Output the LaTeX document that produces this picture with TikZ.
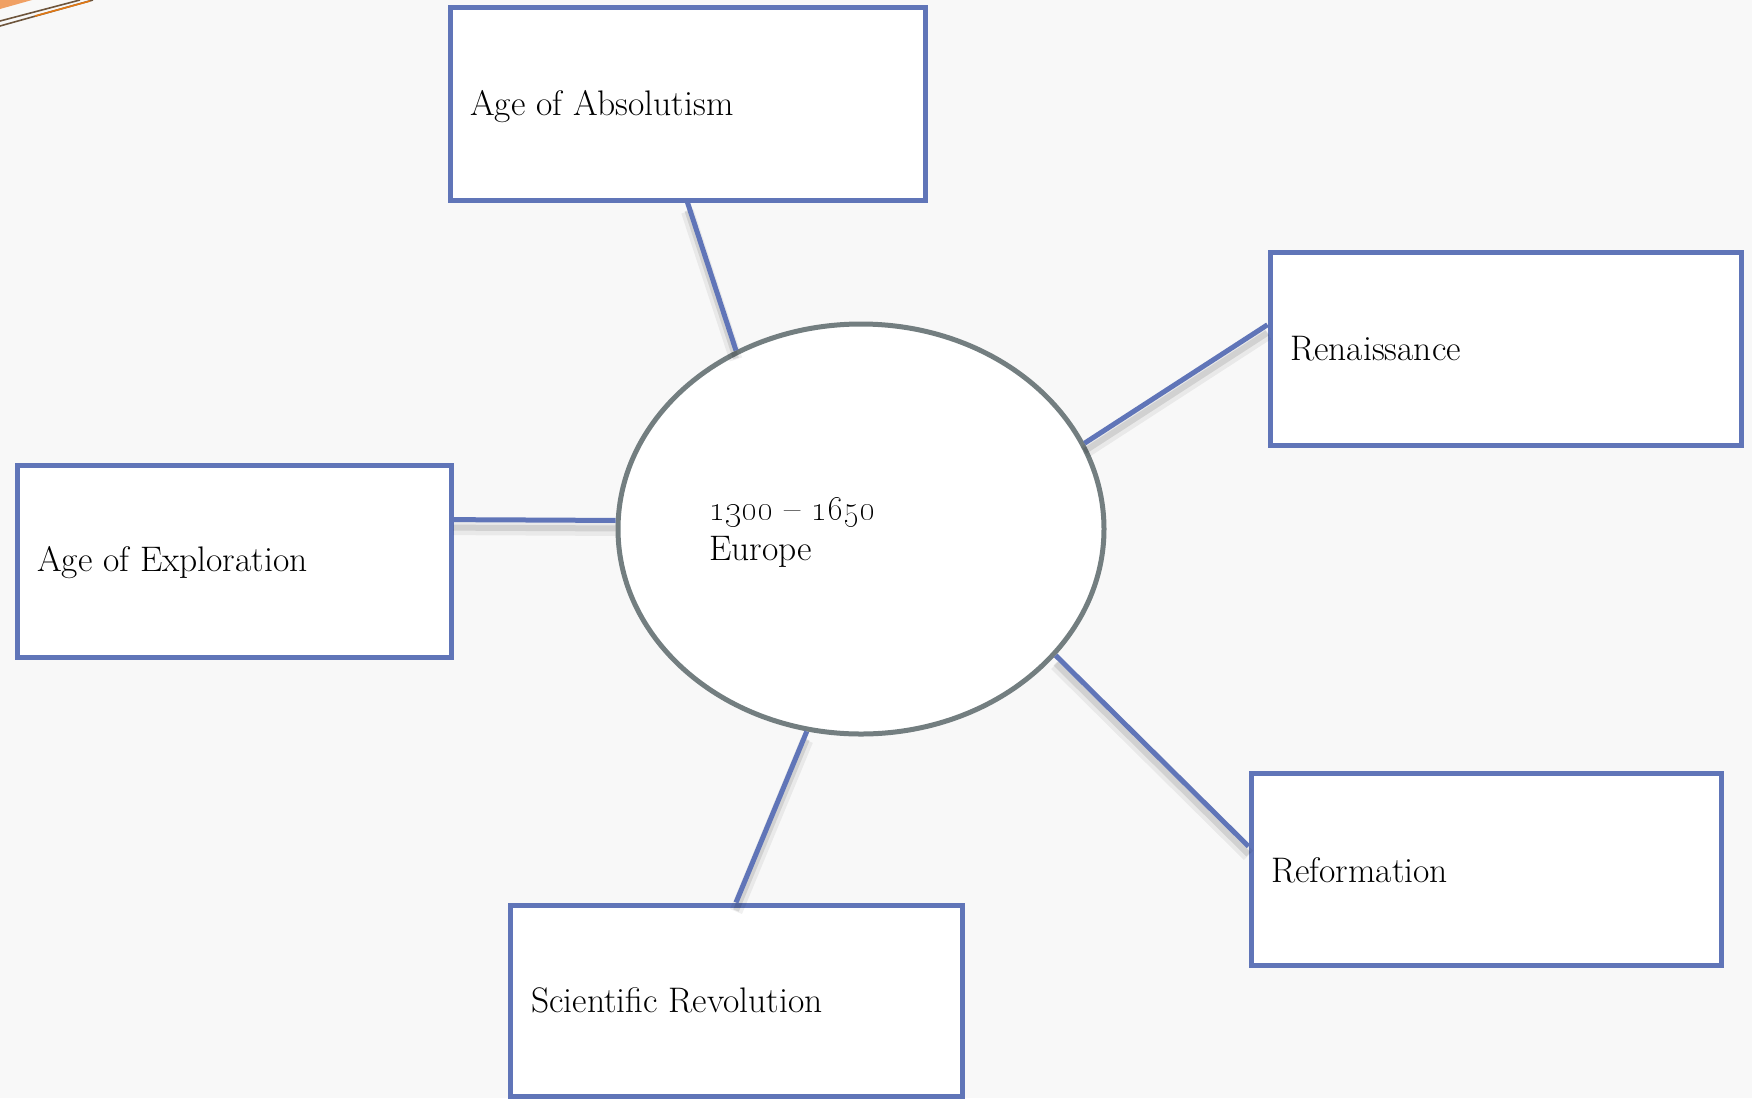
\documentclass[tikz,border=0pt]{standalone}
\usetikzlibrary{shapes.geometric,calc}
\definecolor{boxblue}{RGB}{96,117,184}
\definecolor{ellgray}{RGB}{115,126,128}
\definecolor{bgcol}{RGB}{248,248,248}
\definecolor{decoorange}{RGB}{240,160,100}
\definecolor{decobrown}{RGB}{110,85,60}
\definecolor{decoline}{RGB}{225,120,20}
\tikzset{
  topicbox/.style={draw=boxblue, line width=5pt, fill=white, rectangle, inner sep=0pt},
  hub/.style={draw=ellgray, line width=5pt, fill=white, ellipse, inner sep=0pt},
  lbl/.style={anchor=base west, inner sep=0pt, font=\fontsize{35.5}{42}\selectfont},
  link/.style={draw=boxblue, line width=5pt},
  linkshadow/.style={draw=black, opacity=0.06, line width=13pt, transform canvas={yshift=-9pt}},
  linkshadowcore/.style={draw=black, opacity=0.10, line width=6pt, transform canvas={yshift=-8pt}}
}
\begin{document}
\begin{tikzpicture}[x=1pt,y=-1pt]
\path[fill=bgcol,use as bounding box] (0,0) rectangle (1752,1098);
% corner decoration
\fill[decoorange] (0,0) -- (32,0) -- (0,9) -- cycle;
\draw[decobrown, line width=1.6pt] (0,26) -- (93,0);
\draw[decobrown, line width=1.6pt] (0,21) -- (80,0);
\draw[decoline, line width=1.6pt] (35,16) -- (90,1);
% boxes
\node[topicbox, minimum width=475pt, minimum height=193pt] (abs) at (687.5,103.5) {};
\node[topicbox, minimum width=471pt, minimum height=193pt] (ren) at (1505.5,348.5) {};
\node[topicbox, minimum width=434pt, minimum height=192pt] (exp) at (234,561) {};
\node[topicbox, minimum width=470pt, minimum height=192pt] (ref) at (1486,869) {};
\node[topicbox, minimum width=452pt, minimum height=191pt] (sci) at (736,1000.5) {};
\node[hub, minimum width=486pt, minimum height=410pt] (hub) at (861,529) {};
% connector endpoints on boxes
\coordinate (absP) at (abs.south);
\coordinate (renP) at ($(ren.north west)!0.38!(ren.south west)$);
\coordinate (expP) at ($(exp.north east)!0.29!(exp.south east)$);
\coordinate (refP) at ($(ref.north west)!0.385!(ref.south west)$);
\coordinate (sciP) at (sci.north);
% shadows
\foreach \a/\b in {absP/hub.125, renP/hub.21, expP/hub.178, refP/hub.-33, sciP/hub.255.5}{
  \draw[linkshadow] (\a) -- (\b);
  \draw[linkshadowcore] (\a) -- (\b);
}
% connectors
\draw[link] (absP) -- (hub.125);
\draw[link] (renP) -- (hub.21);
\draw[link] (expP) -- (hub.178);
\draw[link] (refP) -- (hub.-33);
\draw[link] (sciP) -- (hub.255.5);
% labels
\node[lbl] (tabs) at (470,115) {Age of Absolutism};
\node[lbl] (tren) at (1290,360) {Renaissance};
\node[lbl] (texp) at (37,571) {Age of Exploration};
\node[lbl] (tref) at (1271,882) {Reformation};
\node[lbl] (tsci) at (531,1012) {Scientific Revolution};
\node[lbl] (thub1) at (709,520) {\oldstylenums{1300} -- \oldstylenums{1650}};
\node[lbl] (thub2) at (709,560) {Europe};
\end{tikzpicture}
\end{document}
